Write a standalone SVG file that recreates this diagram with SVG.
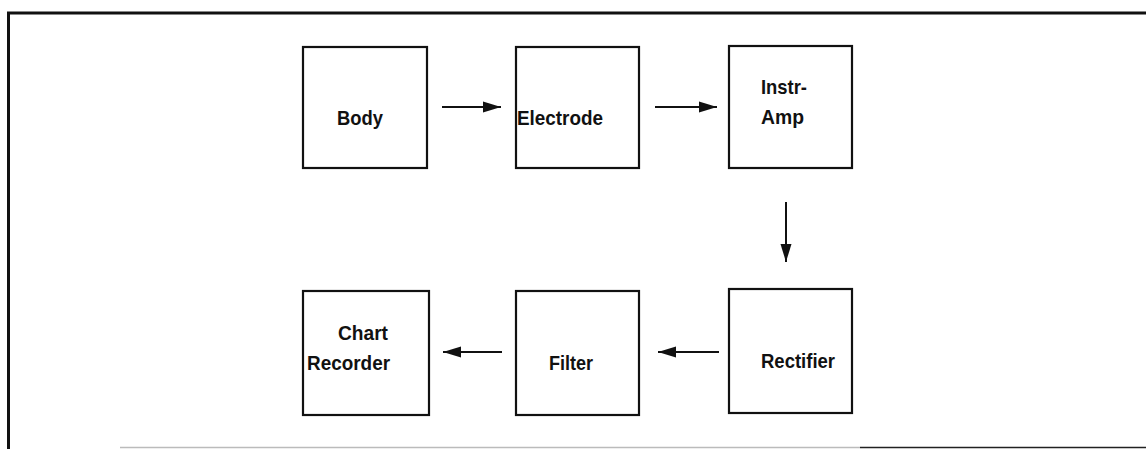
<svg xmlns="http://www.w3.org/2000/svg" width="1146" height="449" viewBox="0 0 1146 449">
  <style>
    .box { fill: #fff; stroke: #111; stroke-width: 2.2; }
    .lbl { font-family: "Liberation Sans", Arial, sans-serif; font-size: 21px; font-weight: bold; fill: #111; }
    .wire { stroke: #111; stroke-width: 2; fill: none; marker-end: url(#head); }
    .frame { stroke: #111; fill: none; }
  </style>
  <defs>
    <marker id="head" viewBox="0 0 18 12" refX="18" refY="6" markerWidth="18" markerHeight="12" markerUnits="userSpaceOnUse" orient="auto">
      <path d="M0,0.5 L18,6 L0,11.5 Z" fill="#111"/>
    </marker>
  </defs>

  <rect width="1146" height="449" fill="#fff"/>

  <!-- outer frame -->
  <g id="frame">
    <path class="frame" d="M1146,13 L8.5,13 L8.5,449" stroke-width="3"/>
    <line x1="120" y1="447.5" x2="860" y2="447.5" stroke="#bbb" stroke-width="1.5"/>
    <line x1="860" y1="447.5" x2="1146" y2="447.5" stroke="#222" stroke-width="1.5"/>
  </g>

  <!-- top row -->
  <g id="body">
    <rect class="box" x="303" y="47" width="124" height="121"/>
    <text class="lbl" x="337" y="125" textLength="46" lengthAdjust="spacingAndGlyphs">Body</text>
  </g>
  <g id="electrode">
    <rect class="box" x="516" y="47" width="123" height="121"/>
    <text class="lbl" x="517" y="125" textLength="86" lengthAdjust="spacingAndGlyphs">Electrode</text>
  </g>
  <g id="instr-amp">
    <rect class="box" x="729" y="46" width="123" height="122"/>
    <text class="lbl" x="761" y="94" textLength="46" lengthAdjust="spacingAndGlyphs">Instr-</text>
    <text class="lbl" x="761" y="124" textLength="43" lengthAdjust="spacingAndGlyphs">Amp</text>
  </g>

  <!-- bottom row -->
  <g id="chart-recorder">
    <rect class="box" x="303" y="291" width="126" height="124"/>
    <text class="lbl" x="338" y="340" textLength="50" lengthAdjust="spacingAndGlyphs">Chart</text>
    <text class="lbl" x="307" y="370" textLength="83" lengthAdjust="spacingAndGlyphs">Recorder</text>
  </g>
  <g id="filter">
    <rect class="box" x="516" y="291" width="123" height="124"/>
    <text class="lbl" x="549" y="370" textLength="44" lengthAdjust="spacingAndGlyphs">Filter</text>
  </g>
  <g id="rectifier">
    <rect class="box" x="729" y="289" width="123" height="124"/>
    <text class="lbl" x="761" y="368" textLength="74" lengthAdjust="spacingAndGlyphs">Rectifier</text>
  </g>

  <!-- signal flow -->
  <g id="connectors">
    <line class="wire" x1="442" y1="107" x2="501" y2="107"/>
    <line class="wire" x1="655" y1="107" x2="717" y2="107"/>
    <line class="wire" x1="786" y1="202" x2="786" y2="262"/>
    <line class="wire" x1="719" y1="352" x2="658" y2="352"/>
    <line class="wire" x1="502" y1="352" x2="443" y2="352"/>
  </g>
</svg>
